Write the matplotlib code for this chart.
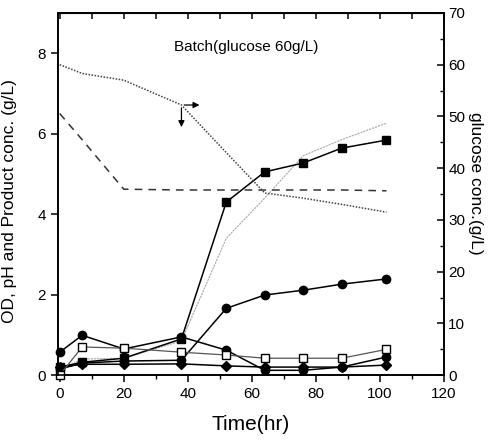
import numpy as np
import matplotlib.pyplot as plt
from matplotlib.ticker import MultipleLocator

plt.rcParams['font.family'] = ['Liberation Sans', 'DejaVu Sans']

# Probenzeitpunkte (h)
time = [0, 7, 20, 38, 52, 64, 76, 88, 102]

# linke Achse: OD, pH und Produkt (g/L)
prod_sq = [0.2, 0.32, 0.42, 0.9, 4.3, 5.05, 5.27, 5.64, 5.84]
prod_ci = [0.15, 0.3, 0.35, 0.37, 1.66, 1.99, 2.11, 2.26, 2.39]
od_ci = [0.57, 0.99, 0.65, 0.95, 0.62, 0.12, 0.12, 0.2, 0.45]
open_sq = [0.0, 0.7, 0.67, 0.57, 0.5, 0.42, 0.42, 0.42, 0.64]
low_dm = [0.2, 0.27, 0.27, 0.28, 0.23, 0.2, 0.2, 0.2, 0.25]
gray_ln = [0.1, 0.4, 0.42, 0.85, 3.4, 4.4, 5.45, 5.85, 6.26]
ph = [6.5, 5.85, 4.62, 4.6, 4.6, 4.6, 4.6, 4.6, 4.58]

# rechte Achse: Glucose (g/L)
glucose = [60, 58.3, 57, 52.2, 43, 35.2, 34.2, 33, 31.5]

fig = plt.figure(figsize=(4.94, 4.45), dpi=100)
ax = fig.add_axes([0.117, 0.157, 0.782, 0.814])
ax2 = ax.twinx()

kw = dict(color='black', lw=1.1, ms=6, clip_on=False, zorder=3)
ax.plot(time, gray_ln, color='#a8a8a8', lw=0.8, ls=(0, (2, 0.8)), zorder=2)
ax.plot(time, low_dm, marker='D', ms=5, color='black', lw=1.1, clip_on=False, zorder=3)
ax.plot(time, prod_ci, marker='o', **kw)
ax.plot(time, od_ci, marker='o', **kw)
ax.plot(time, open_sq, marker='s', mfc='white', mec='black', mew=1.0,
        color='#555555', lw=0.9, ms=6, clip_on=False, zorder=4)
ax.plot(time, prod_sq, marker='s', **kw)
ax.plot(time, ph, color='#333333', lw=1.1, ls=(0, (5, 4)), zorder=2)

ax2.plot(time, glucose, color='#444444', lw=1.1, ls=(0, (1, 1.0)))

# Pfeil: Glucose -> rechte Achse
ax2.annotate('', xy=(44.5, glucose[3]), xytext=(38, glucose[3]),
             arrowprops=dict(arrowstyle='-|>', color='black', lw=0.9, mutation_scale=9))
ax2.annotate('', xy=(38, glucose[3] - 4.8), xytext=(38, glucose[3]),
             arrowprops=dict(arrowstyle='-|>', color='black', lw=0.9, mutation_scale=9))

ax.set_xlim(-0.6, 120)
ax.set_ylim(0, 9)
ax2.set_ylim(0, 70)

ax.xaxis.set_major_locator(MultipleLocator(20))
ax.xaxis.set_minor_locator(MultipleLocator(10))
ax.yaxis.set_major_locator(MultipleLocator(2))
ax2.yaxis.set_major_locator(MultipleLocator(10))
ax2.yaxis.set_minor_locator(MultipleLocator(5))

ax.tick_params(axis='both', which='major', direction='out', length=5, width=1.1, labelsize=11)
ax.tick_params(axis='both', which='minor', direction='out', length=3, width=1.0)
ax2.tick_params(axis='y', which='major', direction='in', length=5, width=1.1, labelsize=11, pad=3)
ax2.tick_params(axis='y', which='minor', direction='in', length=3, width=1.0)

top = ax.secondary_xaxis('top')
top.xaxis.set_major_locator(MultipleLocator(10))
top.tick_params(direction='in', length=4, width=1.1, labeltop=False)

for a in (ax, ax2):
    for s in a.spines.values():
        s.set_linewidth(1.2)

ax.set_xlabel('Time(hr)', fontsize=15, labelpad=10)
ax.set_ylabel('OD, pH and Product conc. (g/L)', fontsize=12.5, labelpad=2)
ax.yaxis.set_label_coords(-0.105, 0.48)
ax2.set_ylabel('glucose conc.(g/L)', fontsize=12.5, rotation=270, va='center')
ax2.yaxis.set_label_coords(1.08, 0.53)

ax.text(0.3, 0.906, 'Batch(glucose 60g/L)', transform=ax.transAxes, fontsize=11, va='center')

fig.savefig('out.png', dpi=100)
